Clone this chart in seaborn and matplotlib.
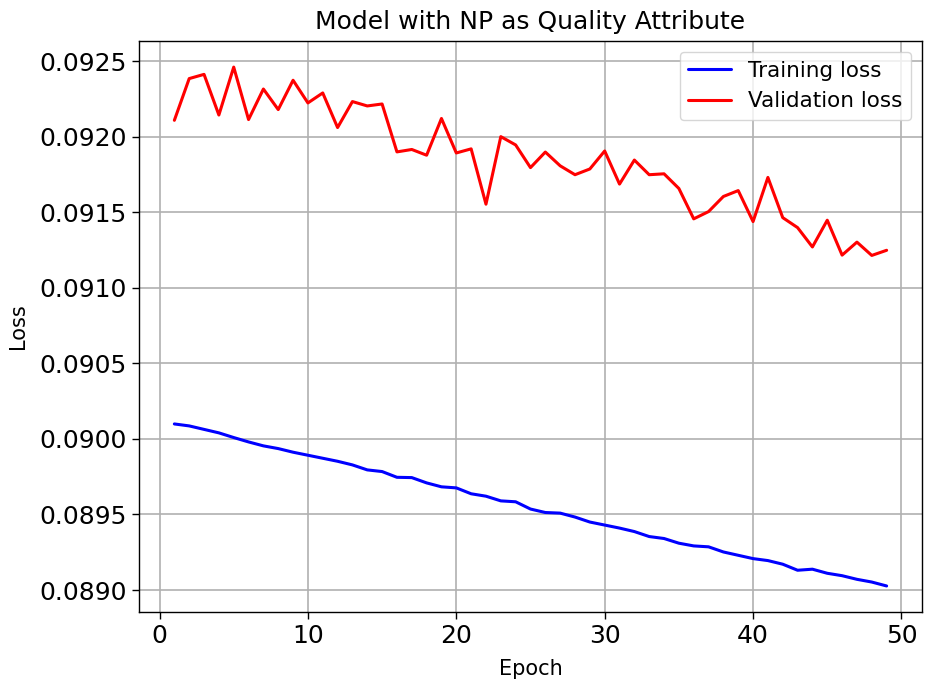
import numpy as np
import pandas as pd
import matplotlib
matplotlib.use("Agg")
import matplotlib.pyplot as plt
import seaborn as sns

epochs = list(range(1, 50))

train_loss = [
    0.090099, 0.090086, 0.090063, 0.090040, 0.090009, 0.089980, 0.089954,
    0.089936, 0.089912, 0.089892, 0.089872, 0.089852, 0.089828, 0.089795,
    0.089784, 0.089746, 0.089744, 0.089709, 0.089683, 0.089676, 0.089637,
    0.089621, 0.089590, 0.089584, 0.089536, 0.089513, 0.089509, 0.089483,
    0.089450, 0.089430, 0.089410, 0.089387, 0.089354, 0.089341, 0.089310,
    0.089292, 0.089286, 0.089252, 0.089230, 0.089208, 0.089195, 0.089171,
    0.089131, 0.089138, 0.089111, 0.089095, 0.089071, 0.089053, 0.089027,
]

val_loss = [
    0.092108, 0.092384, 0.092412, 0.092143, 0.092460, 0.092113, 0.092315,
    0.092179, 0.092373, 0.092223, 0.092289, 0.092060, 0.092232, 0.092203,
    0.092216, 0.091899, 0.091915, 0.091877, 0.092120, 0.091892, 0.091919,
    0.091553, 0.092000, 0.091945, 0.091795, 0.091898, 0.091807, 0.091748,
    0.091786, 0.091905, 0.091686, 0.091845, 0.091748, 0.091754, 0.091657,
    0.091456, 0.091504, 0.091604, 0.091643, 0.091438, 0.091730, 0.091464,
    0.091398, 0.091270, 0.091447, 0.091216, 0.091302, 0.091214, 0.091248,
]

df = pd.DataFrame({
    "Epoch": epochs * 2,
    "Loss": train_loss + val_loss,
    "Series": ["Training loss"] * len(epochs) + ["Validation loss"] * len(epochs),
})

sns.set_style("ticks")
plt.rcParams["font.family"] = ["DejaVu Sans"]
for key in ["text.color", "axes.labelcolor", "xtick.color", "ytick.color"]:
    plt.rcParams[key] = "black"

fig, ax = plt.subplots(figsize=(9.25, 6.86), dpi=100)
fig.subplots_adjust(left=0.150, right=0.997, top=0.940, bottom=0.108)

sns.lineplot(data=df, x="Epoch", y="Loss", hue="Series",
             palette={"Training loss": "blue", "Validation loss": "red"},
             linewidth=2.2, ax=ax)

ax.grid(True, color="#b0b0b0", linewidth=1.2)
ax.set_axisbelow(True)
for s in ax.spines.values():
    s.set_color("black")
    s.set_linewidth(1.0)

ax.set_title("Model with NP as Quality Attribute", fontsize=18, pad=9)
ax.set_xlabel("Epoch", fontsize=15, labelpad=8)
ax.set_ylabel("Loss", fontsize=15, labelpad=8)
ax.tick_params(labelsize=18, length=5, width=1, color="black")
ax.set_xticks([0, 10, 20, 30, 40, 50])
ax.set_yticks(np.arange(0.0890, 0.09251, 0.0005))
ax.yaxis.set_major_formatter(matplotlib.ticker.FormatStrFormatter("%.4f"))

leg = ax.legend(loc="upper right", fontsize=15.5, title=None, framealpha=0.8,
                handlelength=2.0)
for line in leg.get_lines():
    line.set_linewidth(2.2)

fig.savefig("out.png")
